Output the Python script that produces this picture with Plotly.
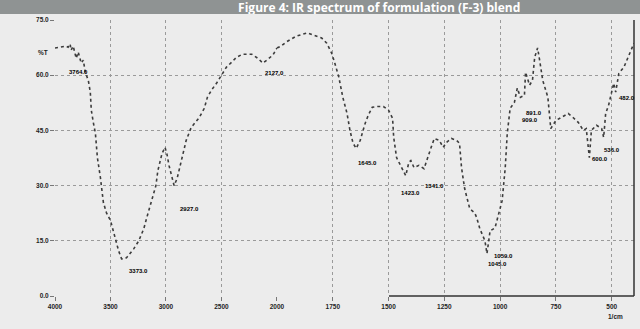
import plotly.graph_objects as go

# FTIR spectrum of formulation F-3 (wavenumber in 1/cm, transmittance in %)
wavenumber = [
    4000, 3945, 3900, 3882, 3864, 3855, 3836, 3809, 3791, 3764, 3745, 3727,
    3700, 3682, 3673, 3655, 3636, 3618, 3591, 3564, 3536, 3500, 3455, 3427,
    3400, 3373, 3355, 3291, 3245, 3200, 3173, 3136, 3091, 3073, 3055, 3036,
    3009, 2991, 2973, 2945, 2927, 2900, 2882, 2855, 2818, 2773, 2700, 2655,
    2627, 2591, 2545, 2500, 2455, 2409, 2364, 2309, 2227, 2173, 2127, 2091,
    2036, 2000,
    1982, 1959, 1914, 1864, 1823, 1800, 1777, 1755, 1741, 1723, 1705, 1686,
    1673, 1659, 1645, 1627, 1605, 1591, 1573, 1550, 1523, 1500, 1482, 1477,
    1464, 1445, 1423, 1409, 1400, 1386, 1364, 1341, 1323, 1309, 1295, 1273,
    1255, 1241, 1218, 1195, 1182, 1173, 1159, 1136, 1114, 1105, 1091, 1068,
    1059, 1045, 1023, 1005, 991, 977, 968, 955, 936, 923, 909, 891, 886,
    868, 855, 845, 832, 823, 809, 786, 777, 773, 750, 727, 695, 673, 650,
    627, 614, 600, 591, 568, 545, 536, 527, 514, 491, 482, 468, 445, 423, 400,
]
transmittance = [
    67.4, 67.6, 67.9, 67.6, 68.5, 66.8, 67.9, 64.6, 66.3, 63.3, 64.1, 60.8,
    58.6, 55.4, 50.5, 47.2, 44.2, 37.6, 32.2, 25.4, 22.6, 20.5, 15.0, 12.3,
    10.1, 10.1, 10.4, 12.8, 15.0, 18.3, 21.3, 25.1, 30.0, 34.1, 36.8, 38.7,
    40.4, 38.5, 35.5, 31.9, 30.0, 31.9, 34.1, 37.6, 42.3, 45.8, 48.5, 51.0,
    54.0, 55.9, 57.8, 60.0, 62.2, 63.5, 64.9, 65.7, 65.7, 64.6, 63.3, 64.1,
    65.5, 67.4,
    67.9, 69.0, 70.6, 71.5, 70.6, 70.1, 68.7, 66.0, 63.3, 59.5, 54.0, 49.6,
    45.0, 41.5, 40.1, 42.3, 46.9, 49.1, 51.3, 51.5, 51.5, 50.5, 48.3, 43.1,
    37.6, 35.5, 32.7, 36.3, 36.8, 34.9, 35.5, 34.6, 38.2, 40.4, 42.8, 42.3,
    40.4, 41.7, 42.8, 42.3, 41.5, 34.9, 29.2, 23.7, 22.6, 21.3, 18.3, 15.0,
    11.5, 17.7, 18.5, 22.4, 25.9, 34.9, 44.2, 51.0, 52.6, 56.5, 54.0, 54.5, 60.8,
    57.3, 58.6, 64.9, 67.4, 64.1, 58.6, 54.0, 48.3, 45.5, 47.7, 48.5, 49.6, 48.5, 47.2,
    45.0, 45.5, 37.6, 45.0, 46.4, 45.5, 43.1, 49.6, 51.8, 57.8, 55.4, 60.5, 62.2, 65.5, 68.7,
]

# Axis ticks (the scale changes at 2000 1/cm)
x_ticks_high = [4000, 3500, 3000, 2500]
x_ticks_low = [2000, 1750, 1500, 1250, 1000, 750, 500]
y_ticks = [0, 15, 30, 45, 60, 75]

# Labelled bands: wavenumber of the marked point
peak_labels = [3764, 3373, 2927, 2127, 1645, 1423, 1341, 1059, 1045, 891, 909, 600, 536, 482]
# text offsets in pixels (dx, dy downward)
label_offsets = [(-3, 9), (14, 12), (15, 23), (12, 10), (11, 15), (5, 17), (10, 17),
                 (17, 2), (7, 33), (10, 18), (10, 23), (11, 1), (8, 13), (11, 6)]

SPLIT = 0.3834
BG = "#ececec"
INK = "#1e1e1e"
W, H = 640, 329
ML, MR, MT, MB = 55, 6, 20, 33
PW, PH = W - ML - MR, H - MT - MB


def px_x(px):
    """Page pixel column -> paper x."""
    return (px - ML) / PW


def px_y(py):
    """Page pixel row (from top) -> paper y."""
    return (H - MB - py) / PH


hi = [(w, t) for w, t in zip(wavenumber, transmittance) if w >= 2000]
lo = [(w, t) for w, t in zip(wavenumber, transmittance) if w <= 2000]

line_style = dict(color="#3c3c3c", width=1.6, dash="dot")
fig = go.Figure()
fig.add_trace(go.Scatter(x=[p[0] for p in hi], y=[p[1] for p in hi], mode="lines",
                         line=line_style, xaxis="x", yaxis="y", hoverinfo="skip"))
fig.add_trace(go.Scatter(x=[p[0] for p in lo], y=[p[1] for p in lo], mode="lines",
                         line=line_style, xaxis="x2", yaxis="y", hoverinfo="skip"))

tick_font = dict(family="Liberation Sans, Arial, sans-serif", size=6.5, color=INK)
grid = dict(showgrid=True, gridcolor="#9a9a9a", griddash="dot", gridwidth=1,
            zeroline=False, ticks="outside", ticklen=4, tickcolor="#777",
            tickfont=tick_font, showline=False)

fig.update_layout(
    width=W, height=H,
    margin=dict(l=ML, r=MR, t=MT, b=MB),
    paper_bgcolor=BG, plot_bgcolor=BG,
    showlegend=False,
    xaxis=dict(domain=[0, SPLIT], range=[4000, 2000], anchor="y",
               tickvals=x_ticks_high, ticktext=[f"<b>{v}</b>" for v in x_ticks_high], **grid),
    xaxis2=dict(domain=[SPLIT, 1], range=[2000, 400], anchor="y",
                tickvals=x_ticks_low, ticktext=[f"<b>{v}</b>" for v in x_ticks_low], **grid),
    yaxis=dict(range=[0, 75], anchor="x", tickvals=y_ticks,
               ticktext=[f"<b>{v:.1f}</b>" for v in y_ticks], **grid),
)

# band labels
for wn, (dx, dy) in zip(peak_labels, label_offsets):
    t = transmittance[wavenumber.index(wn)]
    fig.add_annotation(x=wn, y=t, xref="x" if wn >= 2000 else "x2", yref="y",
                       text=f"<b>{wn:.1f}</b>", showarrow=False,
                       xshift=dx, yshift=-dy,
                       font=dict(family="Liberation Sans, Arial, sans-serif", size=6, color="#000"))

# right frame edge and solid part of the bottom axis
fig.add_shape(type="line", xref="paper", yref="paper", x0=1, x1=1, y0=0, y1=1,
              line=dict(color="#333", width=1.5))
fig.add_shape(type="line", xref="paper", yref="paper", x0=px_x(389), x1=1, y0=0, y1=0,
              line=dict(color="#333", width=1.5))

# header bar carrying the caption (caption sits right of centre)
pad = "&nbsp;" * 38
fig.add_annotation(xref="paper", yref="paper", x=px_x(0), y=px_y(0),
                   xanchor="left", yanchor="top", width=W, height=14,
                   bgcolor="#8f9393", borderpad=0, borderwidth=0,
                   text=pad + "<b>Figure 4: IR spectrum of formulation (F-3) blend</b>",
                   align="center", valign="middle",
                   showarrow=False,
                   font=dict(family="Open Sans, Liberation Sans, sans-serif", size=12, color="white"))

fig.add_annotation(xref="paper", yref="paper", x=px_x(36), y=px_y(47), text="<b>%T</b>",
                   showarrow=False, font=tick_font)
fig.add_annotation(xref="paper", yref="paper", x=px_x(625), y=px_y(322), text="<b>1/cm</b>",
                   showarrow=False, font=tick_font)

fig.write_html("out.html")
